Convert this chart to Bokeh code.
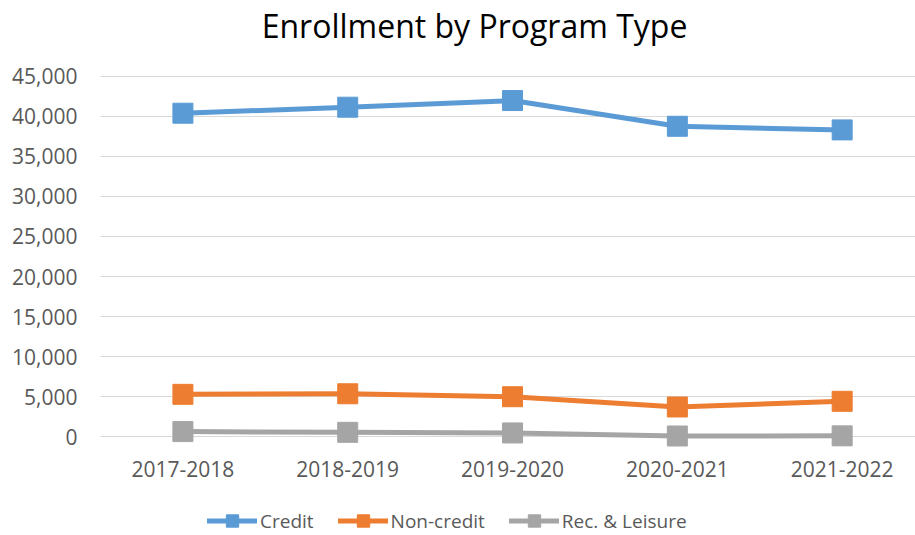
from bokeh.plotting import figure
from bokeh.models import (Range1d, FixedTicker, NumeralTickFormatter, Legend, LegendItem,
                          Label, LabelSet, ColumnDataSource)
from bokeh.core.properties import value
from bokeh.embed import file_html
from bokeh.resources import INLINE

years = ["2017-2018", "2018-2019", "2019-2020", "2020-2021", "2021-2022"]
credit = [40380, 41130, 41960, 38750, 38300]
noncredit = [5300, 5370, 5000, 3720, 4430]
rec_leisure = [650, 560, 480, 100, 120]
series_names = ["Credit", "Non-credit", "Rec. & Leisure"]
colors = ["#5B9BD5", "#ED7D31", "#A5A5A5"]
y_ticks = [0, 5000, 10000, 15000, 20000, 25000, 30000, 35000, 40000, 45000]

FONT = "Open Sans"
TXT = "#595959"

xs = list(range(len(years)))

# frame spans the whole height; the y range is widened so that 0..45,000 sits where the
# reference's plot area is, leaving room for title, category labels and legend inside it
p = figure(width=915, height=535, output_backend="svg", toolbar_location=None,
           title=None, x_axis_location=None,
           x_range=Range1d(-0.5, 4.445), y_range=Range1d(-12317, 54447),
           min_border_left=100, min_border_right=0, min_border_top=0, min_border_bottom=0)
p.outline_line_color = None
p.background_fill_color = "white"
p.border_fill_color = "white"

p.xgrid.grid_line_color = None
p.ygrid.grid_line_color = "#D9D9D9"
p.ygrid.grid_line_width = 1
p.ygrid.ticker = FixedTicker(ticks=y_ticks)

p.yaxis.ticker = FixedTicker(ticks=y_ticks)
p.yaxis.formatter = NumeralTickFormatter(format="0,0")
p.yaxis.axis_line_color = None
p.yaxis.major_tick_line_color = None
p.yaxis.minor_tick_line_color = None
p.yaxis.major_tick_out = 0
p.yaxis.major_label_standoff = 23
p.yaxis.major_label_text_font = FONT
p.yaxis.major_label_text_font_size = "21px"
p.yaxis.major_label_text_color = TXT

# category labels under the zero line
cat_src = ColumnDataSource(dict(x=xs, y=[0] * len(xs), text=years))
cats = LabelSet(x="x", y="y", text="text", source=cat_src, y_offset=-32,
                text_align="center", text_baseline="middle",
                text_font=value(FONT), text_font_size=value("21px"),
                text_color=value(TXT))
p.add_layout(cats)

items = []
for name, vals, col in zip(series_names, [credit, noncredit, rec_leisure], colors):
    src = ColumnDataSource(dict(x=xs, y=vals))
    ln = p.line("x", "y", source=src, line_color=col, line_width=5,
                line_cap="round", line_join="round")
    mk = p.scatter("x", "y", source=src, marker="square", size=20,
                   fill_color=col, line_color=col, line_width=1)
    items.append(LegendItem(label=name, renderers=[ln, mk]))

legend = Legend(items=items, orientation="horizontal", location=(107, -1),
                glyph_width=50, glyph_height=31, label_standoff=3, spacing=24,
                padding=0, margin=0, border_line_color=None, background_fill_alpha=0,
                label_text_font=FONT, label_text_font_size="19px",
                label_text_color=TXT)
p.add_layout(legend, "center")

title = Label(x=374, y=510, x_units="screen", y_units="screen",
              text="Enrollment by Program Type", text_align="center",
              text_baseline="alphabetic", text_font=FONT, text_font_size="32px",
              text_color="#000000")
p.add_layout(title)

open("out.html", "w").write(file_html(p, INLINE))
